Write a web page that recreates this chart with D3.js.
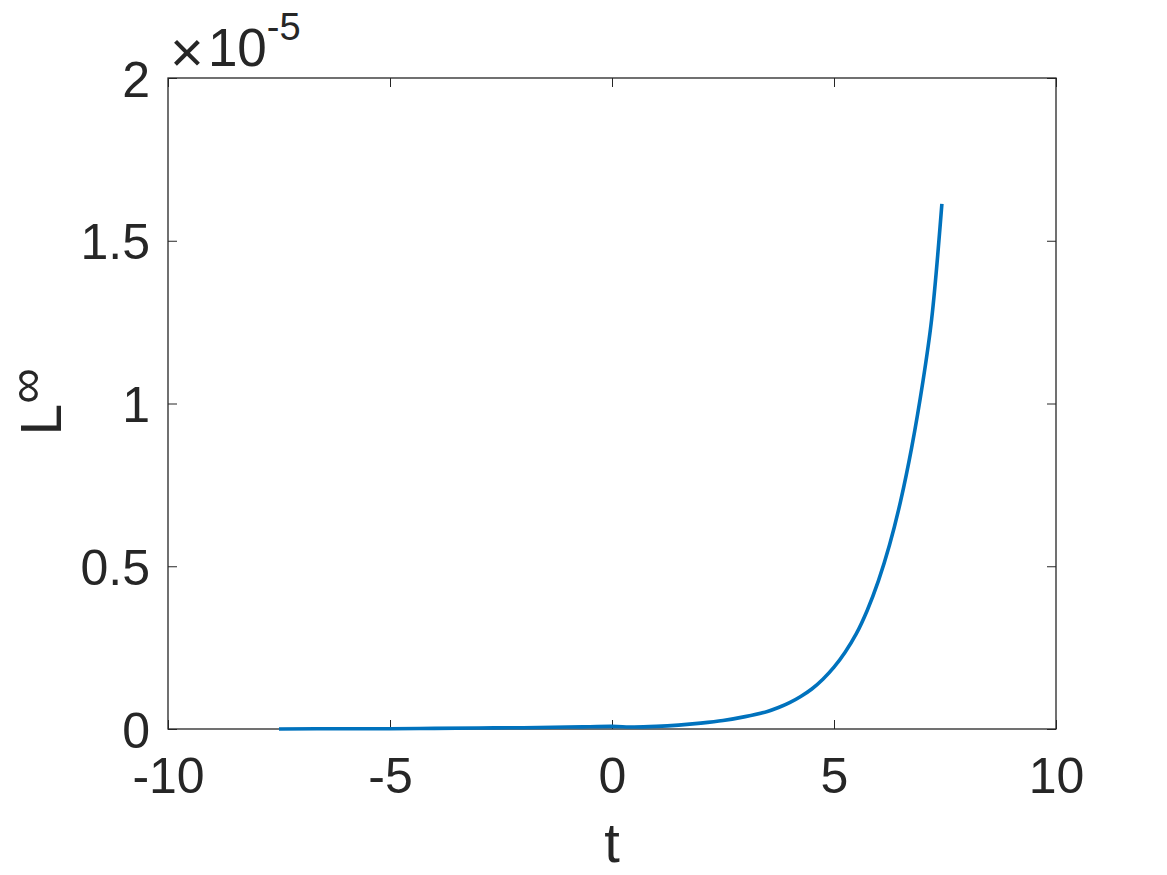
<!DOCTYPE html>
<html>
<head>
<meta charset="utf-8">
<script src="https://cdn.jsdelivr.net/npm/d3@7"></script>
<style>
  body { margin: 0; background: #fff; }
  text { font-family: "Liberation Sans", Arial, sans-serif; fill: #262626; }
</style>
</head>
<body>
<div id="chart"></div>
<script>
// values, L-infinity error in units of 1e-5
var tValues = [-7.5, -6, -5, -4, -3, -2, -1, -0.5, 0, 0.5, 1, 1.5, 2, 2.5, 3, 3.5, 3.75, 4, 4.25, 4.5, 4.75, 5, 5.25, 5.5, 5.75, 6, 6.25, 6.5, 6.75, 7, 7.2, 7.43];
var lValues = [0.0, 0.001, 0.001, 0.002, 0.003, 0.004, 0.006, 0.007, 0.008, 0.006, 0.008, 0.012, 0.018, 0.026, 0.038, 0.054, 0.066, 0.081, 0.10, 0.123, 0.153, 0.19, 0.236, 0.292, 0.365, 0.455, 0.565, 0.70, 0.865, 1.065, 1.26, 1.613];

var xTicks = [-10, -5, 0, 5, 10];
var yTicks = [0, 0.5, 1, 1.5, 2];
var yTickLabels = ["0", "0.5", "1", "1.5", "2"];

var width = 1167, height = 875;
var margins = {top: 78, right: 111, bottom: 146, left: 168};
var w = width - margins.left - margins.right,
    h = height - margins.top - margins.bottom;

var svg = d3.select("#chart").append("svg")
    .attr("width", width)
    .attr("height", height);

var g = svg.append("g")
    .attr("transform", "translate(" + margins.left + "," + margins.top + ")");

var x = d3.scaleLinear().domain([-10, 10]).range([0, w]);
var y = d3.scaleLinear().domain([0, 2]).range([h, 0]);

// axes, ticks point inward like matlab
var xAxis = g.append("g")
    .attr("transform", "translate(0," + h + ")")
    .call(d3.axisBottom(x).tickValues(xTicks).tickSize(-9).tickPadding(28)
      .tickFormat(function(d) { return String(d); }));
xAxis.selectAll("text").attr("font-size", 50).attr("dy", "0.71em");

var yAxis = g.append("g")
    .call(d3.axisLeft(y).tickValues(yTicks).tickSize(-9).tickPadding(18)
      .tickFormat(function(d, i) { return yTickLabels[i]; }));
yAxis.selectAll("text").attr("font-size", 50).attr("dy", "0.36em");

g.append("g")
    .call(d3.axisTop(x).tickValues(xTicks).tickSize(-9).tickFormat(""));
g.append("g")
    .attr("transform", "translate(" + w + ",0)")
    .call(d3.axisRight(y).tickValues(yTicks).tickSize(-9).tickFormat(""));

g.selectAll(".domain").remove();
g.selectAll(".tick line").attr("stroke", "#262626").attr("stroke-width", 1);

g.append("rect")
    .attr("width", w)
    .attr("height", h)
    .attr("fill", "none")
    .attr("stroke", "#262626")
    .attr("stroke-width", 1.3);

// the curve
var line = d3.line()
    .x(function(d, i) { return x(tValues[i]); })
    .y(function(d) { return y(d); })
    .curve(d3.curveCatmullRom.alpha(0.5));

g.append("path")
    .datum(lValues)
    .attr("d", line)
    .attr("fill", "none")
    .attr("stroke", "#0072BD")
    .attr("stroke-width", 3.6);

// x label
svg.append("text")
    .attr("x", margins.left + w / 2)
    .attr("y", 862)
    .attr("text-anchor", "middle")
    .attr("font-size", 56)
    .text("t");

// y label L^inf
var yl = svg.append("text")
    .attr("transform", "translate(61," + (margins.top + h / 2 + 32) + ") rotate(-90)")
    .attr("font-size", 57);
yl.append("tspan").text("L");
yl.append("tspan").attr("font-size", 50).attr("dy", -18).text("\u221e");

// exponent
var ex = svg.append("text")
    .attr("x", 170)
    .attr("y", 66);
ex.append("tspan").attr("font-size", 58).attr("font-weight", 300).attr("dy", 6).text("\u00d7");
ex.append("tspan").attr("font-size", 53).attr("dx", 4).attr("dy", -6).text("10");
ex.append("tspan").attr("font-size", 38).attr("dy", -26).text("-5");
</script>
</body>
</html>
